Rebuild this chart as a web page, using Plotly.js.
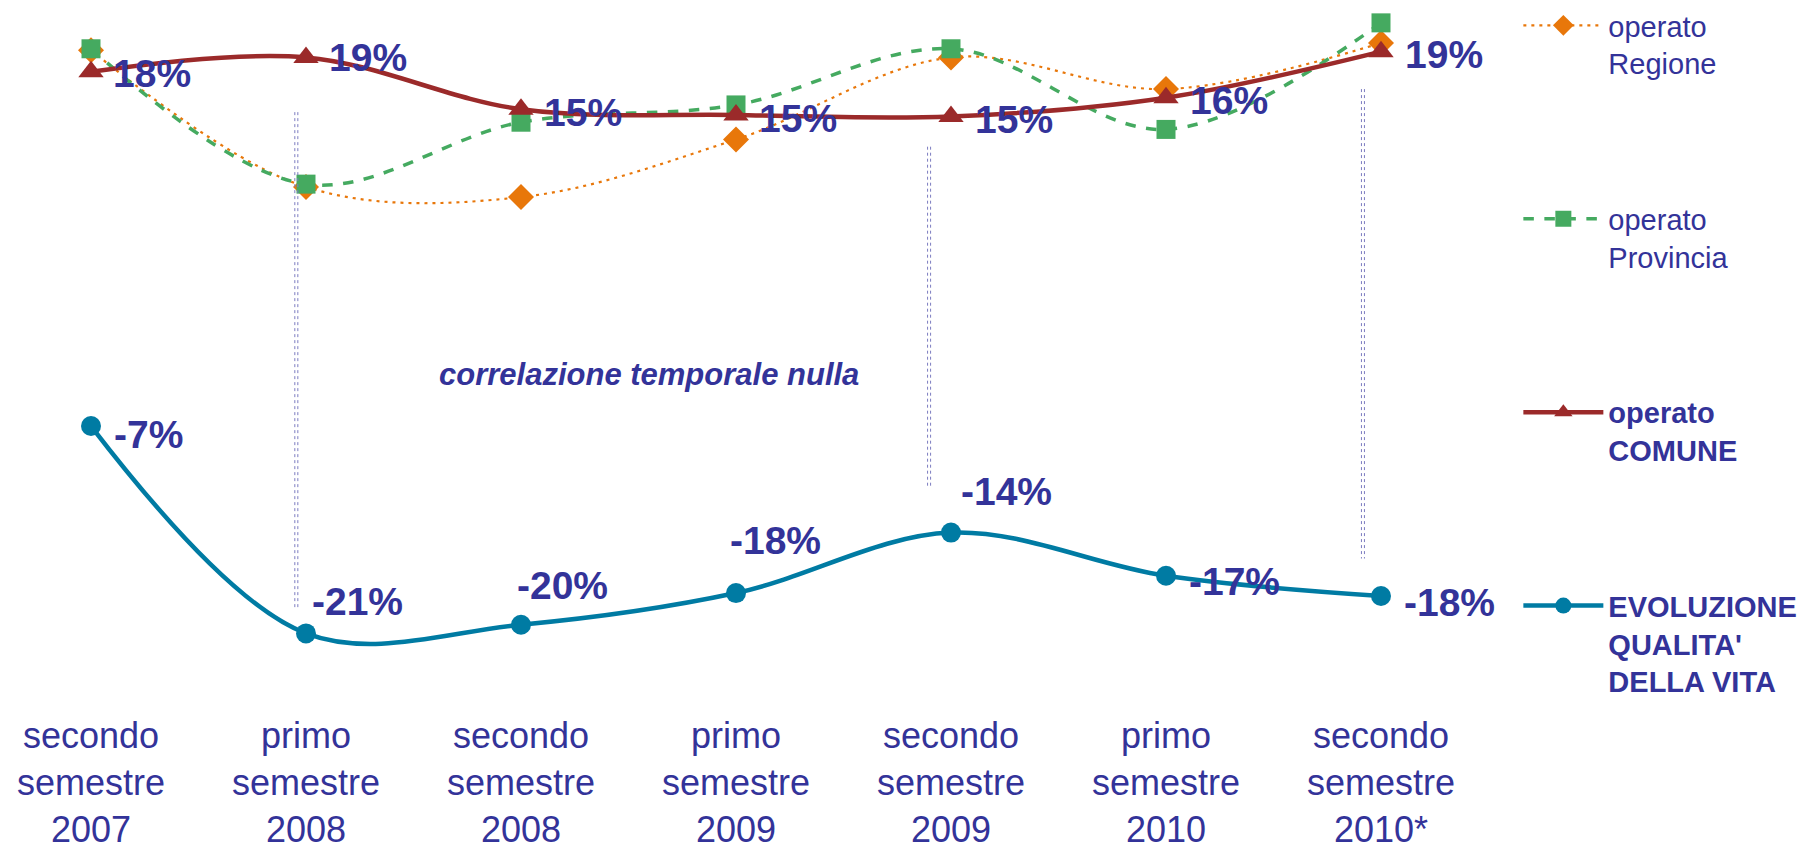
<!DOCTYPE html>
<html>
<head>
<meta charset="utf-8">
<script src="https://cdn.plot.ly/plotly-3.0.1.min.js"></script>
<style>html,body{margin:0;padding:0;background:#fff;}#chart{width:1799px;height:849px;}</style>
</head>
<body>
<div id="chart"></div>
<script>
const categories = [
  "secondo<br>semestre<br>2007",
  "primo<br>semestre<br>2008",
  "secondo<br>semestre<br>2008",
  "primo<br>semestre<br>2009",
  "secondo<br>semestre<br>2009",
  "primo<br>semestre<br>2010",
  "secondo<br>semestre<br>2010*"
];
const operatoRegione   = [19.5, 10.0, 9.3, 13.3, 19.0, 16.8, 20.0];
const operatoProvincia = [19.6, 10.2, 14.5, 15.7, 19.6, 14.0, 21.4];
const operatoComune    = [18.0, 19.0, 15.4, 15.0, 14.9, 16.2, 19.4];
const evoluzioneQV     = [-6.6, -21.0, -20.4, -18.2, -14.0, -17.0, -18.4];
const seriesNames = [
  "operato<br>Regione",
  "operato<br>Provincia",
  "<b>operato<br>COMUNE</b>",
  "<b>EVOLUZIONE<br>QUALITA'<br>DELLA VITA</b>"
];
const annotationText = "correlazione temporale nulla";

const TXT = "#333399";
const FONT = "Liberation Sans, Arial, sans-serif";
const pct = v => Math.round(v) + "%";

const traces = [
  {
    x: categories, y: operatoRegione, name: seriesNames[0], legendgroup: "a",
    type: "scatter", mode: "lines+markers",
    line: {color: "#E8770A", width: 2.2, dash: "3px,5px", shape: "spline"},
    marker: {symbol: "diamond", size: 20, color: "#E8770A"}
  },
  {
    x: categories, y: operatoProvincia, name: seriesNames[1], legendgroup: "b",
    type: "scatter", mode: "lines+markers",
    line: {color: "#45AA60", width: 3.5, dash: "dash", shape: "spline"},
    marker: {symbol: "square", size: 19, color: "#45AA60"}
  },
  {
    x: categories, y: operatoComune, name: seriesNames[2], legendgroup: "c",
    type: "scatter", mode: "lines+markers",
    line: {color: "#9B2A2A", width: 4.5, shape: "spline"},
    marker: {symbol: "triangle-up", size: 22, color: "#9B2A2A"}
  },
  {
    x: categories, y: evoluzioneQV, name: seriesNames[3], legendgroup: "d",
    type: "scatter", mode: "lines+markers",
    line: {color: "#007BA3", width: 4.5, shape: "spline"},
    marker: {symbol: "circle", size: 20, color: "#007BA3"}
  }
];

// label placement (pixel offsets from each marker: right shift, downward shift)
const comuneOffsets = [[21,2],[22,0],[22,3],[22,3],[23,3],[23,3],[23,3]];
const evoOffsets = [[22,8],[5,-32],[-5,-39],[-7,-53],[9,-41],[22,6],[22,7]];

const labelAnns = [];
function addLabels(vals, offs) {
  vals.forEach((v, i) => labelAnns.push({
    xref: "x", yref: "y", x: categories[i], y: v, text: "<b>" + pct(v) + "</b>",
    showarrow: false, xanchor: "left", yanchor: "middle",
    xshift: offs[i][0], yshift: -offs[i][1], borderpad: 0,
    font: {family: FONT, size: 39, color: TXT}
  }));
}
addLabels(operatoComune, comuneOffsets);
addLabels(evoluzioneQV, evoOffsets);

function vline(x, y0, y1) {
  const s = [];
  [-0.007, 0.007].forEach(d => s.push({
    type: "line", xref: "x", yref: "y", x0: x + d, x1: x + d, y0: y0, y1: y1,
    line: {color: "#7C7CC0", width: 1, dash: "dot"}
  }));
  return s;
}

const layout = {
  width: 1799, height: 849,
  paper_bgcolor: "#fff", plot_bgcolor: "#fff",
  margin: {l: 5, r: 332, t: 5, b: 138},
  font: {family: FONT, color: TXT},
  showlegend: true,
  legend: {
    xref: "container", yref: "container", x: 0.844, y: 1.0, xanchor: "left", yanchor: "top",
    traceorder: "grouped", tracegroupgap: 115, valign: "top", itemwidth: 80,
    maxheight: 849,
    font: {family: FONT, size: 29, color: TXT}, bgcolor: "rgba(0,0,0,0)"
  },
  xaxis: {
    type: "category", range: [-0.4, 6.4],
    showgrid: false, zeroline: false, showline: false,
    ticks: "", tickfont: {family: FONT, size: 36, color: TXT}
  },
  yaxis: {range: [-26.39, 22.64], visible: false, showgrid: false, zeroline: false},
  shapes: [].concat(vline(0.955, 15.2, -19.2), vline(3.898, 12.8, -10.9), vline(5.916, 16.8, -15.8)),
  annotations: labelAnns.concat([{
    xref: "x", yref: "y", x: 2.597, y: -3.0, text: "<b><i>" + annotationText + "</i></b>",
    showarrow: false, font: {family: FONT, size: 31, color: TXT}
  }])
};

Plotly.newPlot("chart", traces, layout, {displayModeBar: false, staticPlot: true});
</script>
</body>
</html>
